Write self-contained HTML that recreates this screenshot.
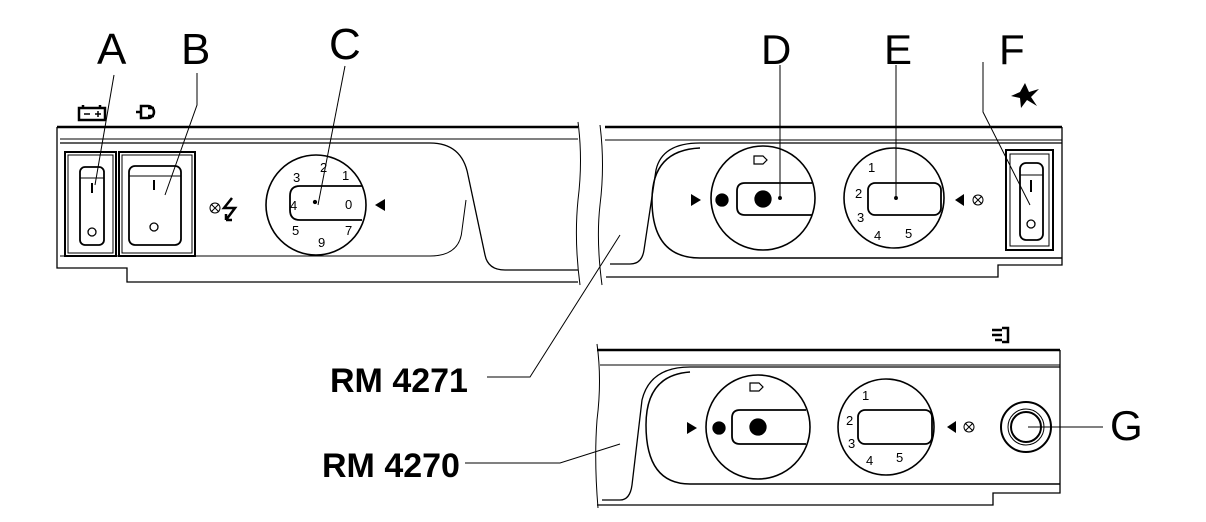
<!DOCTYPE html>
<html><head><style>
html,body{margin:0;padding:0;background:#fff;}
svg{display:block;}
text{font-family:"Liberation Sans",sans-serif;fill:#000;}
</style></head><body>
<svg width="1206" height="522" viewBox="0 0 1206 522" xmlns="http://www.w3.org/2000/svg" fill="none" stroke="#000" stroke-width="1.3">
<g stroke="none">
<text x="97" y="64" font-size="44">A</text>
<text x="181" y="64" font-size="44">B</text>
<text x="329" y="59" font-size="44">C</text>
<text x="761" y="64" font-size="42">D</text>
<text x="884" y="64" font-size="42">E</text>
<text x="999" y="64" font-size="42">F</text>
<text x="1110" y="440" font-size="42">G</text>
<text x="330" y="392" font-size="34" font-weight="bold">RM 4271</text>
<text x="322" y="477" font-size="34" font-weight="bold">RM 4270</text>
</g>
<g stroke-width="1">
<path d="M114 75 L95 185"/>
<path d="M197 73 L197 105 L165 195"/>
<path d="M345 66 L318 205"/>
<path d="M780 65 L780 198"/>
<path d="M896 65 L896 198"/>
<path d="M983 62 L983 112 L1030 205"/>
<path d="M487 377 L530 377 L620 235"/>
<path d="M465 463 L560 463 L620 444"/>
<path d="M1028 427 L1103 427"/>
</g>
<g stroke-width="2.5">
<rect x="79" y="108" width="26" height="12"/>
<path d="M83 108 v-3 M100 108 v-3"/>
<path d="M84 114 h6 M95 114 h6 M98 111 v6" stroke-width="1.5"/>
<path d="M136 112 h5 M141 106 h7 a5 5 0 0 1 0 12 h-7 z M148 108 h6 M148 116 h6"/>
</g>
<path d="M57 127 L578 127" stroke-width="2.5"/>
<path d="M57 127 L57 268 L127 268 L127 282 L578 282"/>
<path d="M60 139 L578 139" stroke-width="1"/>
<path d="M60 143 L430 143 Q462 143 468 175 L485 255 Q488 270 505 270 L578 270"/>
<path d="M60 256 L430 256 Q460 256 462 230 L466 200" stroke-width="1"/>
<path d="M578 122 Q583 160 578 200 Q574 240 580 285" stroke-width="1"/>
<path d="M600 125 Q605 165 600 205 Q596 240 602 285" stroke-width="1"/>
<rect x="65" y="152" width="51" height="104" stroke-width="2"/>
<rect x="68" y="155" width="45" height="98" stroke-width="1"/>
<rect x="80" y="167" width="24" height="78" rx="5" stroke-width="1.8"/>
<path d="M80 178 h24" stroke-width="1"/>
<path d="M92 183 v10" stroke-width="2"/>
<circle cx="92" cy="232" r="4"/>
<rect x="119" y="152" width="76" height="104" stroke-width="2"/>
<rect x="122" y="155" width="70" height="98" stroke-width="1"/>
<rect x="129" y="166" width="52" height="79" rx="6" stroke-width="1.8"/>
<path d="M129 176 h52" stroke-width="1"/>
<path d="M154 180 v10" stroke-width="2"/>
<circle cx="154" cy="227" r="4"/>
<g stroke-width="1"><circle cx="215" cy="208" r="5"/><path d="M211 204 l8 8 M219 204 l-8 8"/></g>
<path d="M232 198 L224 208 L235 208 L226 220 M226 220 L226 214 M226 220 L232 220" stroke-width="2.5"/>
<circle cx="316" cy="205" r="50" stroke-width="1.6"/>
<path d="M362 186 L300 186 Q290 186 290 196 L290 210 Q290 220 300 220 L362 220" stroke-width="1.8"/>
<circle cx="315" cy="202" r="1.5" fill="#000"/>
<path d="M375 205 L385 199 L385 211 Z" fill="#000" stroke="none"/>
<g stroke="none" font-size="13" fill="#000">
<text x="320" y="172">2</text><text x="342" y="180">1</text><text x="345" y="209">0</text>
<text x="345" y="235">7</text><text x="318" y="247">9</text><text x="292" y="235">5</text>
<text x="290" y="210">4</text><text x="293" y="182">3</text>
</g>
<path d="M605 127 L1062 127" stroke-width="2.5"/>
<path d="M1062 127 L1062 265 L998 265 L998 277 L606 277"/>
<path d="M605 140 L1062 140" stroke-width="1"/>
<path d="M610 264 L630 264 Q642 264 644 250 L656 170 Q662 143 700 143 L1062 143"/>
<path d="M700 148 Q652 150 652 200 Q652 258 700 258 L1062 258" stroke-width="1.5"/>
<circle cx="763" cy="198" r="52" stroke-width="1.6"/>
<path d="M812 183 L745 183 Q737 183 737 191 L737 207 Q737 215 745 215 L812 215" stroke-width="1.8"/>
<circle cx="763" cy="199" r="8" fill="#000"/>
<circle cx="722" cy="200" r="6" fill="#000"/>
<circle cx="780" cy="198" r="1.3" fill="#000"/>
<path d="M701 200 L691 194 L691 206 Z" fill="#000" stroke="none"/>
<path d="M754 156 h9 l4 4 l-4 4 h-9 z" stroke-width="1.2"/>
<circle cx="894" cy="198" r="50" stroke-width="1.6"/>
<rect x="868" y="183" width="73" height="32" rx="7" stroke-width="1.8"/>
<circle cx="896" cy="198" r="1.3" fill="#000"/>
<path d="M955 200 L964 194 L964 206 Z" fill="#000" stroke="none"/>
<g stroke-width="1"><circle cx="978" cy="200" r="5"/><path d="M974 196 l8 8 M982 196 l-8 8"/></g>
<g stroke="none" font-size="13" fill="#000">
<text x="868" y="172">1</text><text x="855" y="198">2</text><text x="857" y="222">3</text>
<text x="874" y="240">4</text><text x="905" y="238">5</text>
</g>
<rect x="1006" y="150" width="47" height="100" stroke-width="2"/>
<rect x="1010" y="154" width="39" height="92" stroke-width="1"/>
<rect x="1020" y="163" width="23" height="77" rx="6" stroke-width="1.8"/>
<path d="M1020 175 h23" stroke-width="1"/>
<path d="M1031 180 v12" stroke-width="2"/>
<circle cx="1031" cy="224" r="4"/>
<path d="M1025 83 L1029 92 L1039 89 L1031 97 L1037 106 L1027 100 L1021 108 L1020 98 L1011 96 L1020 92 Z" fill="#000" stroke="none"/>
<path d="M597 350 L1060 350" stroke-width="2.5"/>
<path d="M1060 350 L1060 493 L993 493 L993 505 L597 505"/>
<path d="M597 344 Q602 380 597 420 Q594 460 598 508" stroke-width="1"/>
<path d="M600 365 L1060 365" stroke-width="1"/>
<path d="M602 500 L620 500 Q630 500 632 485 L642 400 Q650 367 690 367 L1060 367"/>
<path d="M690 372 Q646 375 646 425 Q646 484 690 484 L1060 484" stroke-width="1.5"/>
<circle cx="758" cy="427" r="52" stroke-width="1.6"/>
<path d="M806 410 L740 410 Q732 410 732 418 L732 436 Q732 444 740 444 L806 444" stroke-width="1.8"/>
<circle cx="758" cy="427" r="8" fill="#000"/>
<circle cx="719" cy="428" r="6" fill="#000"/>
<path d="M697 428 L687 422 L687 434 Z" fill="#000" stroke="none"/>
<path d="M750 383 h9 l4 4 l-4 4 h-9 z" stroke-width="1.2"/>
<circle cx="886" cy="427" r="48" stroke-width="1.6"/>
<rect x="858" y="410" width="74" height="34" rx="7" stroke-width="1.8"/>
<path d="M947 427 L956 421 L956 433 Z" fill="#000" stroke="none"/>
<g stroke-width="1"><circle cx="969" cy="427" r="5"/><path d="M965 423 l8 8 M973 423 l-8 8"/></g>
<g stroke="none" font-size="13" fill="#000">
<text x="862" y="400">1</text><text x="846" y="425">2</text><text x="848" y="448">3</text>
<text x="866" y="465">4</text><text x="896" y="462">5</text>
</g>
<circle cx="1026" cy="427" r="25" stroke-width="2"/>
<circle cx="1026" cy="427" r="18" stroke-width="1"/>
<circle cx="1026" cy="427" r="15" stroke-width="2"/>
<path d="M992 330 h10 M992 335 h10 M995 340 h7 M1002 328 h6 v14 h-6" stroke-width="2.5"/>
</svg>
</body></html>
